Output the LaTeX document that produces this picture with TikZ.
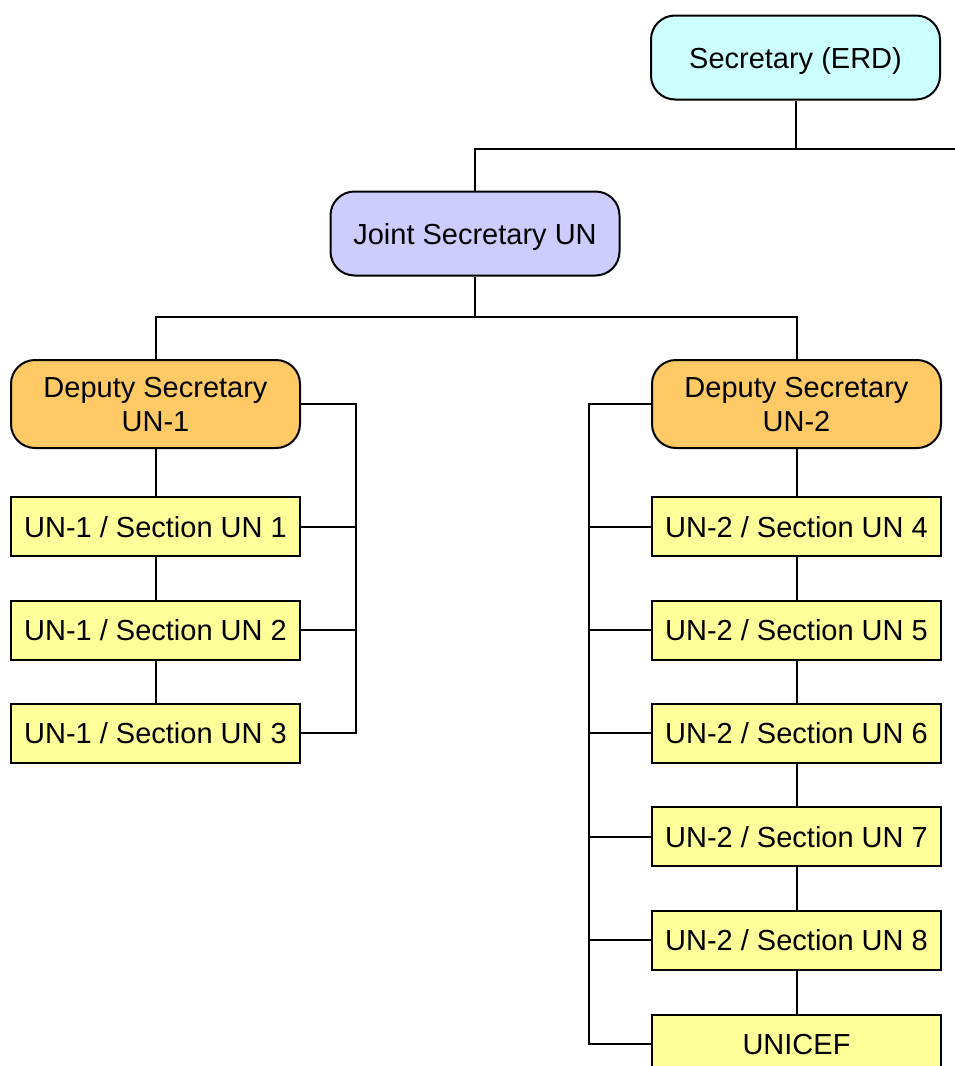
\documentclass[tikz,border=0pt]{standalone}
\usepackage{fontspec}
\setmainfont{Liberation Sans}
\definecolor{topfill}{HTML}{CCFFFF}
\definecolor{jointfill}{HTML}{CCCCFF}
\definecolor{depfill}{HTML}{FFC966}
\definecolor{secfill}{HTML}{FFFF99}
\begin{document}
\begin{tikzpicture}[x=1pt,y=-1pt,
  box/.style={draw=black, line width=2pt, inner sep=0pt, align=center,
    font=\fontsize{29}{34}\selectfont, text=black},
  oneline/.style={text height=21pt, text depth=0pt},
  rbox/.style={box, rounded corners=24pt, minimum width=289pt, minimum height=84pt},
  depbox/.style={rbox, fill=depfill, minimum height=88pt, text depth=-6pt},
  sbox/.style={box, oneline, minimum width=289pt, minimum height=59pt, fill=secfill},
  conn/.style={draw=black, line width=2pt}]
\useasboundingbox (0,0) rectangle (955,1066);
\fill[white] (0,0) rectangle (955,1066);

\node[rbox, oneline, fill=topfill] (sec) at (795.5,57.5) {Secretary (ERD)};
\node[rbox, oneline, fill=jointfill] (joint) at (475,233.5) {Joint Secretary UN};
\node[depbox] (d1) at (155.5,404) {Deputy Secretary\\UN-1};
\node[depbox] (d2) at (796.5,404) {Deputy Secretary\\UN-2};

\node[sbox] (s1) at (155.5,526.5) {UN-1 / Section UN 1};
\node[sbox] (s2) at (155.5,630) {UN-1 / Section UN 2};
\node[sbox] (s3) at (155.5,733) {UN-1 / Section UN 3};

\node[sbox] (s4) at (796.5,526.5) {UN-2 / Section UN 4};
\node[sbox] (s5) at (796.5,630) {UN-2 / Section UN 5};
\node[sbox] (s6) at (796.5,733) {UN-2 / Section UN 6};
\node[sbox] (s7) at (796.5,836.5) {UN-2 / Section UN 7};
\node[sbox] (s8) at (796.5,940) {UN-2 / Section UN 8};
\node[sbox] (un) at (796.5,1044) {UNICEF};

\coordinate (offR) at (955,149);
\coordinate (jb) at (475,317);
\coordinate (br) at (356,0);
\coordinate (bl) at (589,0);

\draw[conn] (sec.south) -- (sec.south |- offR);
\draw[conn] (joint.north) |- (offR);
\draw[conn] (joint.south) -- (jb);
\draw[conn] (d1.north) |- (jb) -| (d2.north);

\draw[conn] (d1.south) -- (s1.north);
\draw[conn] (s1.south) -- (s2.north);
\draw[conn] (s2.south) -- (s3.north);
\draw[conn] (d1.east) -- (d1.east -| br) |- (s3.east);
\draw[conn] (s1.east) -- (s1.east -| br);
\draw[conn] (s2.east) -- (s2.east -| br);

\draw[conn] (d2.south) -- (s4.north);
\draw[conn] (s4.south) -- (s5.north);
\draw[conn] (s5.south) -- (s6.north);
\draw[conn] (s6.south) -- (s7.north);
\draw[conn] (s7.south) -- (s8.north);
\draw[conn] (s8.south) -- (un.north);
\draw[conn] (d2.west) -- (d2.west -| bl) |- (un.west);
\draw[conn] (s4.west) -- (s4.west -| bl);
\draw[conn] (s5.west) -- (s5.west -| bl);
\draw[conn] (s6.west) -- (s6.west -| bl);
\draw[conn] (s7.west) -- (s7.west -| bl);
\draw[conn] (s8.west) -- (s8.west -| bl);
\end{tikzpicture}
\end{document}
